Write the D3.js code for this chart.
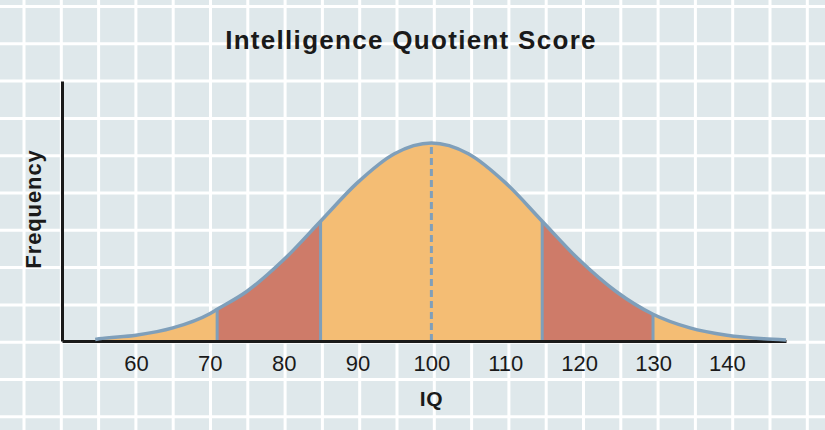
<!DOCTYPE html>
<html>
<head>
<meta charset="utf-8">
<script src="https://cdn.jsdelivr.net/npm/d3@7"></script>
<style>
  html, body { margin: 0; padding: 0; background: #dfe8eb; }
  svg { display: block; }
  text { font-family: "Liberation Sans", Arial, sans-serif; fill: #1a1a1a; }
</style>
</head>
<body>
<svg id="chart" width="825" height="430"></svg>
<script>
// ---- data ----
const title = "Intelligence Quotient Score";
const xLabel = "IQ";
const yLabel = "Frequency";
const tickValues = [60, 70, 80, 90, 100, 110, 120, 130, 140];
// curve points: IQ score, frequency relative to the peak
const curveIQ   = [54.5, 55,    60,    65,    70,    71,   75,   80,   85,    90,   95,    100, 105,   110,  115,   120,  125,  130,   135,   140,   145,   148];
const curveFreq = [0.008, 0.011, 0.029, 0.066, 0.138, 0.16, 0.25, 0.41, 0.605, 0.80, 0.946, 1.0, 0.946, 0.80, 0.605, 0.41, 0.25, 0.135, 0.066, 0.029, 0.011, 0.005];
// shaded bands (IQ ranges drawn in the darker colour)
const bandStart = [71, 115];
const bandEnd   = [85, 130];
const boundaries = [71, 85, 115, 130];
const meanIQ = 100;

// ---- layout ----
const W = 825, H = 430;
const svg = d3.select("#chart");
const x = d3.scaleLinear().domain([50, 148]).range([62, 786]);
const y = d3.scaleLinear().domain([0, 1.313]).range([341, 81]);

// background grid
const gridStep = 37.3;
const g0 = svg.append("g");
g0.append("rect").attr("width", W).attr("height", H).attr("fill", "#dfe8eb");
for (let gx = 24; gx < W; gx += gridStep) {
  g0.append("line").attr("x1", gx).attr("x2", gx).attr("y1", 0).attr("y2", H)
    .attr("stroke", "#ffffff").attr("stroke-width", 3);
}
for (let gy = 6.5; gy < H; gy += gridStep) {
  g0.append("line").attr("x1", 0).attr("x2", W).attr("y1", gy).attr("y2", gy)
    .attr("stroke", "#ffffff").attr("stroke-width", 3);
}

const pts = curveIQ.map((v, i) => ({iq: v, f: curveFreq[i]}));
const curve = d3.curveMonotoneX;
const area = d3.area().x(d => x(d.iq)).y0(y(0)).y1(d => y(d.f)).curve(curve);
const line = d3.line().x(d => x(d.iq)).y(d => y(d.f)).curve(curve);

// clip paths for bands
const defs = svg.append("defs");
bandStart.forEach((s, i) => {
  defs.append("clipPath").attr("id", "band" + i)
    .append("rect").attr("x", x(s)).attr("y", 0)
    .attr("width", x(bandEnd[i]) - x(s)).attr("height", H);
});

svg.append("path").datum(pts).attr("d", area).attr("fill", "#f4bd74");
bandStart.forEach((s, i) => {
  svg.append("path").datum(pts).attr("d", area).attr("fill", "#ce7b69")
    .attr("clip-path", "url(#band" + i + ")");
});

// boundary lines
boundaries.forEach(b => {
  const p = pts.find(d => d.iq === b);
  svg.append("line").attr("x1", x(b)).attr("x2", x(b))
    .attr("y1", y(0)).attr("y2", y(p.f))
    .attr("stroke", "#7f9fba").attr("stroke-width", 3);
});

// mean dashed line
const peak = pts.find(d => d.iq === meanIQ);
svg.append("line").attr("x1", x(meanIQ)).attr("x2", x(meanIQ))
  .attr("y1", y(0)).attr("y2", y(peak.f))
  .attr("stroke", "#7f9fba").attr("stroke-width", 3)
  .attr("stroke-dasharray", "7,4");

// axes
const xAxis = d3.axisBottom(x).tickValues(tickValues).tickSize(0).tickSizeOuter(0).tickPadding(14);
const gx = svg.append("g").attr("transform", `translate(0,${y(0)})`).call(xAxis);
gx.select(".domain").attr("stroke", "#1a1a1a").attr("stroke-width", 3);
gx.selectAll("text").attr("font-size", 22).attr("font-family", "Liberation Sans, Arial, sans-serif").attr("fill", "#1a1a1a");

const yAxis = d3.axisLeft(y).tickValues([]).tickSize(0).tickSizeOuter(0);
const gy = svg.append("g").attr("transform", `translate(${x(50)},0)`).call(yAxis);
gy.select(".domain").attr("stroke", "#1a1a1a").attr("stroke-width", 3);

// curve outline
svg.append("path").datum(pts).attr("d", line).attr("fill", "none")
  .attr("stroke", "#7f9fba").attr("stroke-width", 3.5).attr("stroke-linejoin", "round");

// texts
svg.append("text").attr("x", 411).attr("y", 49).attr("text-anchor", "middle")
  .attr("font-size", 26).attr("font-weight", "bold").attr("letter-spacing", 1.3).text(title);
svg.append("text").attr("x", x(100)).attr("y", 406).attr("text-anchor", "middle")
  .attr("font-size", 21).attr("font-weight", "bold").attr("letter-spacing", 0.5).text(xLabel);
svg.append("text").attr("transform", "translate(41,209) rotate(-90)").attr("text-anchor", "middle")
  .attr("font-size", 22).attr("font-weight", "bold").attr("letter-spacing", 0.9).text(yLabel);
</script>
</body>
</html>
